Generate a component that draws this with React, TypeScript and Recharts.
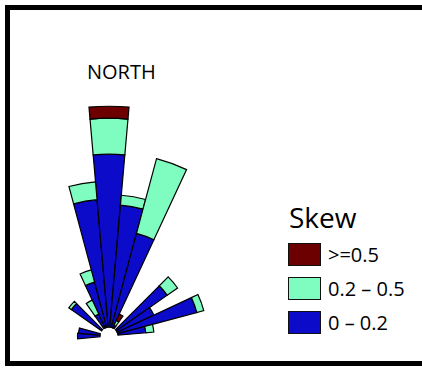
import { Cell, PolarAngleAxis, PolarRadiusAxis, RadialBar, RadialBarChart } from "recharts";

// compass bins (10° each), west -> east through north
const directions = ["270", "280", "290", "300", "310", "320", "330", "340", "350", "0", "10", "20", "30", "40", "50", "60", "70", "80", "90"];
// frequency per bin, split by skew class
const skewLow = [2.5, 2.4, 0, 0, 4.1, 0, 1.7, 5.2, 14.2, 19.2, 13.6, 10.8, 0.3, 0, 6.9, 4.5, 9.1, 3.1, 0];
const skewMid = [0, 0, 0, 0, 0.35, 0, 1.7, 1.4, 2.0, 4.0, 1.1, 8.6, 0.6, 0, 1.4, 0, 0.8, 0.9, 0];
const skewHigh = [0, 0, 0, 0, 0, 0, 0, 0, 0, 1.33, 0, 0, 0.8, 0, 0, 0, 0, 0, 0];

const legendLabels = [">=0.5", "0.2 \u2013 0.5", "0 \u2013 0.2"];
const legendColors = ["#6c0000", "#7ffdc1", "#0b0bc9"];

const COLORS = { low: "#0b0bc9", mid: "#7ffdc1", high: "#6c0000" };

const data = directions.map((dir, i) => ({
  dir,
  low: skewLow[i],
  mid: skewMid[i],
  high: skewHigh[i],
}));

const FONT = "'Open Sans', sans-serif";

function Series({ k }: { k: "low" | "mid" | "high" }) {
  return (
    <RadialBar dataKey={k} stackId="skew" fill={COLORS[k]} stroke="#000" strokeWidth={1.2} isAnimationActive={false}>
      {data.map((d) => (
        <Cell key={d.dir} stroke={d[k] > 0 ? "#000" : "none"} fill={COLORS[k]} />
      ))}
    </RadialBar>
  );
}

export default function App() {
  return (
    <div
      style={{
        position: "absolute",
        left: 0,
        top: 0,
        width: 422,
        height: 372,
        overflow: "hidden",
        background: "#fff",
        fontFamily: FONT,
        color: "#000",
      }}
    >
      {/* frame, right edge cropped off like the original */}
      <div
        style={{
          position: "absolute",
          left: 5,
          top: 5,
          width: 440,
          height: 361,
          boxSizing: "border-box",
          border: "5px solid #000",
        }}
      />
      <div style={{ position: "absolute", left: 0, top: 0 }}>
        <RadialBarChart
          width={422}
          height={372}
          data={data}
          layout="centric"
          cx={109}
          cy={336}
          innerRadius={9}
          outerRadius={234}
          startAngle={175}
          endAngle={-15}
          barCategoryGap={0}
          barGap={0}
        >
          <PolarAngleAxis type="category" dataKey="dir" tick={false} axisLine={false} tickLine={false} />
          <PolarRadiusAxis type="number" domain={[0, 25]} tick={false} axisLine={false} tickLine={false} />
          {Series({ k: "low" })}
          {Series({ k: "mid" })}
          {Series({ k: "high" })}
        </RadialBarChart>
      </div>
      <div style={{ position: "absolute", left: 87, top: 62, fontSize: 20, lineHeight: "20px" }}>NORTH</div>
      <div style={{ position: "absolute", left: 289, top: 203, fontSize: 28, lineHeight: "28px" }}>Skew</div>
      {legendLabels.map((label, i) => (
        <div key={label}>
          <div
            style={{
              position: "absolute",
              left: 288,
              top: 243 + i * 34,
              width: 33,
              height: 23,
              boxSizing: "border-box",
              border: "1.5px solid #111",
              background: legendColors[i],
            }}
          />
          <div
            style={{
              position: "absolute",
              left: 328,
              top: 245 + i * 34,
              fontSize: 20,
              lineHeight: "20px",
              whiteSpace: "nowrap",
            }}
          >
            {label}
          </div>
        </div>
      ))}
    </div>
  );
}
